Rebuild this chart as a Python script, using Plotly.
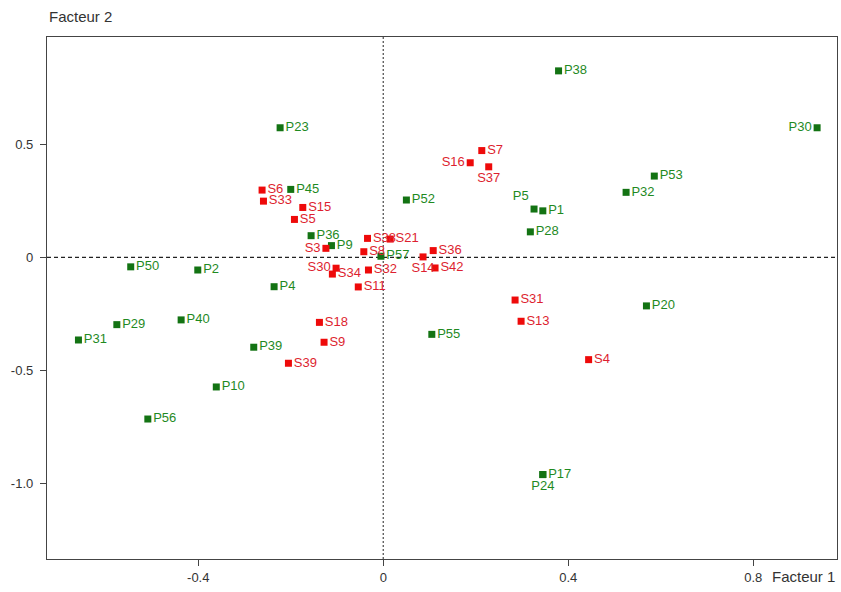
import plotly.graph_objects as go

# ---- data (factor coordinates) ----
p_names = ["P38", "P30", "P23", "P53", "P45", "P32", "P52", "P5", "P1", "P28",
           "P36", "P9", "P57", "P50", "P2", "P4", "P20", "P40", "P29", "P55",
           "P31", "P39", "P10", "P56", "P17", "P24"]
p_f1 = [0.379, 0.938, -0.223, 0.586, -0.200, 0.525, 0.050, 0.326, 0.345, 0.318,
        -0.156, -0.112, -0.005, -0.546, -0.401, -0.236, 0.569, -0.437, -0.576, 0.105,
        -0.659, -0.280, -0.361, -0.509, 0.345, 0.345]
p_f2 = [0.826, 0.574, 0.574, 0.360, 0.301, 0.288, 0.254, 0.214, 0.206, 0.113,
        0.096, 0.052, 0.005, -0.042, -0.056, -0.130, -0.215, -0.277, -0.298, -0.341,
        -0.366, -0.398, -0.574, -0.716, -0.962, -0.962]

s_names = ["S7", "S16", "S37", "S6", "S33", "S15", "S5", "S38", "S21", "S36",
           "S14", "S42", "S8", "S3", "S34", "S30", "S32", "S11", "S18", "S9",
           "S39", "S31", "S13", "S4"]
s_f1 = [0.213, 0.188, 0.228, -0.262, -0.259, -0.174, -0.192, -0.034, 0.015, 0.108,
        0.086, 0.112, -0.042, -0.124, -0.110, -0.102, -0.032, -0.054, -0.138, -0.128,
        -0.205, 0.285, 0.298, 0.444]
s_f2 = [0.473, 0.419, 0.401, 0.298, 0.249, 0.221, 0.168, 0.084, 0.081, 0.030,
        0.002, -0.047, 0.025, 0.040, -0.074, -0.048, -0.056, -0.131, -0.288, -0.376,
        -0.469, -0.189, -0.283, -0.453]

x_ticks = [-0.4, 0, 0.4, 0.8]
x_ticktext = ["-0.4", "0", "0.4", "0.8"]
y_ticks = [0.5, 0, -0.5, -1.0]
y_ticktext = ["0.5", "0", "-0.5", "-1.0"]

# ---- styling ----
FONT = "Liberation Sans, Arial, sans-serif"
GREEN_M = "#137313"
GREEN_T = "#1f8a1f"
RED_M = "#ee0a0a"
RED_T = "#dd1f30"

special_pos = {"P30": "middle left", "P5": "top left", "P24": "bottom center",
               "S16": "middle left", "S37": "bottom center",
               "S3": "middle left", "S30": "middle left", "S14": "bottom center"}

def positions(names):
    return [special_pos.get(n, "middle right") for n in names]

fig = go.Figure()
fig.add_trace(go.Scatter(
    x=p_f1, y=p_f2, text=p_names, mode="markers+text",
    textposition=positions(p_names),
    marker=dict(symbol="square", size=7, color=GREEN_M),
    textfont=dict(family=FONT, size=13, color=GREEN_T),
    showlegend=False, cliponaxis=False))
fig.add_trace(go.Scatter(
    x=s_f1, y=s_f2, text=s_names, mode="markers+text",
    textposition=positions(s_names),
    marker=dict(symbol="square", size=7, color=RED_M),
    textfont=dict(family=FONT, size=13, color=RED_T),
    showlegend=False, cliponaxis=False))

fig.add_shape(type="line", xref="x", yref="paper", x0=0, x1=0, y0=0, y1=1,
              line=dict(color="#555", width=1.3, dash="2px,2px"), layer="below")
fig.add_shape(type="line", xref="paper", yref="y", x0=0, x1=1, y0=0, y1=0,
              line=dict(color="#222", width=1.2, dash="4px,3px"), layer="below")

axis_common = dict(showgrid=False, zeroline=False, showline=True, mirror=True,
                   linecolor="#444", linewidth=1.3, ticks="outside", ticklen=6,
                   tickcolor="#444", tickfont=dict(family=FONT, size=13, color="#333"))

fig.update_xaxes(range=[-0.727, 0.981], tickvals=x_ticks, ticktext=x_ticktext,
                 **axis_common)
fig.update_yaxes(range=[-1.336, 0.976], tickvals=y_ticks, ticktext=y_ticktext,
                 ticklabelstandoff=4, **axis_common)

fig.add_annotation(text="Facteur 2", xref="paper", yref="paper", x=0, y=1,
                   xanchor="left", yanchor="middle", yshift=21, showarrow=False,
                   font=dict(family=FONT, size=15, color="#333"))
fig.add_annotation(text="Facteur 1", xref="paper", yref="paper", x=1, y=0,
                   xanchor="right", yanchor="middle", yshift=-17, showarrow=False,
                   font=dict(family=FONT, size=15, color="#333"))

fig.update_layout(width=841, height=592, paper_bgcolor="white", plot_bgcolor="white",
                  margin=dict(l=47, r=4, t=37, b=33), font=dict(family=FONT))

fig.write_html("out.html", config={"displayModeBar": False},
               post_script="document.body.style.margin='0';document.body.style.overflow='hidden';")
